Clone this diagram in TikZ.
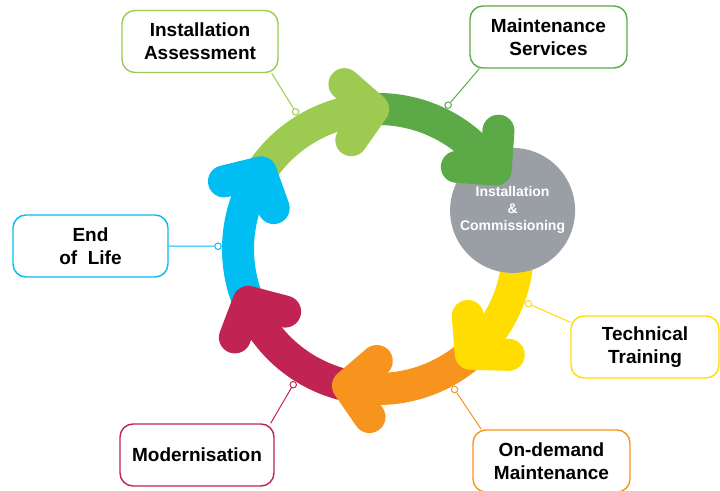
\documentclass[tikz,border=0pt]{standalone}
\usepackage{fontspec}
\setmainfont{Liberation Sans}
\usepackage{tikz}
\definecolor{lgreen}{HTML}{9DCB51}
\definecolor{dgreen}{HTML}{5BAA47}
\definecolor{sun}{HTML}{FFDD00}
\definecolor{tangerine}{HTML}{F7941E}
\definecolor{crimson}{HTML}{C12453}
\definecolor{sky}{HTML}{00BEF2}
\definecolor{hubgray}{HTML}{9A9FA5}
\tikzstyle{stage} = [draw, fill=white, rounded corners=13pt, line width=1.4pt, minimum width=156pt, minimum height=62pt, align=center, font=\bfseries\fontsize{19}{23}\selectfont]
\tikzstyle{joint} = [circle, draw, fill=white, line width=1pt, minimum size=6.5pt, inner sep=0pt]
\tikzstyle{band} = [line width=32pt]
\tikzstyle{head} = [line width=32pt, line cap=round, line join=round]

\begin{document}
\begin{tikzpicture}[x=1pt,y=1pt]
		\useasboundingbox (0,0) rectangle (720,490);
		\coordinate (ring) at (378,241);
		% tips of the arrows
		\coordinate (lg-tip) at ([shift={(92:140)}]ring);
		\coordinate (dg-tip) at ([shift={(34:142)}]ring);
		\coordinate (y-tip) at ([shift={(-48.5:140)}]ring);
		\coordinate (o-tip) at ([shift={(-102.4:140)}]ring);
		\coordinate (c-tip) at ([shift={(-157.8:140)}]ring);
		\coordinate (b-tip) at ([shift={(146.8:140)}]ring);
		% bands
		\draw[band,sun] ([shift={(16:140)}]ring) arc[start angle=16,end angle=-48.5,radius=140];
		\draw[band,tangerine] (y-tip) arc[start angle=-48.5,end angle=-102.4,radius=140];
		\draw[band,crimson] (o-tip) arc[start angle=-102.4,end angle=-157.8,radius=140];
		\draw[band,sky] (c-tip) arc[start angle=-157.8,end angle=-213.2,radius=140];
		\draw[band,lgreen] (b-tip) arc[start angle=146.8,end angle=92,radius=140];
		\draw[band,dgreen] (lg-tip) arc[start angle=92,end angle=34,radius=140];
		% hub
		\node[circle, fill=hubgray, minimum size=125pt, inner sep=0pt, text=white, align=center, font=\bfseries\fontsize{14}{17}\selectfont] (hub) at ([shift={(16:140)}]ring) {Installation\\\&\\Commissioning};
		% heads
		\draw[head,sun] (y-tip) ++(-1.5:38) -- (y-tip) -- ++(94.5:38);
		\draw[head,tangerine] (o-tip) ++(-55.4:38) -- (o-tip) -- ++(40.6:38);
		\draw[head,crimson] (c-tip) ++(-110.8:38) -- (c-tip) -- ++(-14.8:38);
		\draw[head,sky] (b-tip) ++(193.8:38) -- (b-tip) -- ++(289.8:38);
		\draw[head,lgreen] (lg-tip) ++(139:38) -- (lg-tip) -- ++(235:38);
		\draw[head,dgreen] (dg-tip) ++(86:39) -- (dg-tip) -- ++(176:39);
		% stages
		\node[stage, draw=lgreen] (assess) at (200,448.5) {Installation\\Assessment};
		\node[stage, draw=dgreen, minimum width=157pt] (maint) at (548.5,453) {Maintenance\\Services};
		\node[stage, draw=sky, minimum width=155pt] (eol) at (90.5,244) {End\\of\ \ Life};
		\node[stage, draw=sun, minimum width=148pt] (train) at (645,143) {Technical\\Training};
		\node[stage, draw=crimson, minimum width=154pt] (modern) at (197,35) {Modernisation};
		\node[stage, draw=tangerine, minimum width=157pt] (ondemand) at (551.5,29) {On-demand\\Maintenance};
		% joints on the ring
		\node[joint, draw=lgreen] (assess-dot) at ([shift={(121:160)}]ring) {};
		\node[joint, draw=dgreen] (maint-dot) at ([shift={(64:160)}]ring) {};
		\node[joint, draw=sky] (eol-dot) at ([shift={(179:160)}]ring) {};
		\node[joint, draw=sun] (train-dot) at ([shift={(-20:160)}]ring) {};
		\node[joint, draw=crimson] (modern-dot) at ([shift={(-122:160)}]ring) {};
		\node[joint, draw=tangerine] (ondemand-dot) at ([shift={(-61.4:160)}]ring) {};
		% connectors
		\draw[lgreen, line width=1pt] (assess-dot) -- ([xshift=-7pt]assess.south east);
		\draw[dgreen, line width=1pt] (maint-dot) -- ([xshift=10pt]maint.south west);
		\draw[sky, line width=1pt] (eol-dot) -- (eol.east);
		\draw[sun, line width=1pt] (train-dot) -- ([yshift=-7pt]train.north west);
		\draw[crimson, line width=1pt] (modern-dot) -- ([xshift=-4pt]modern.north east);
		\draw[tangerine, line width=1pt] (ondemand-dot) -- ([xshift=9pt]ondemand.north west);
\end{tikzpicture}
\end{document}
